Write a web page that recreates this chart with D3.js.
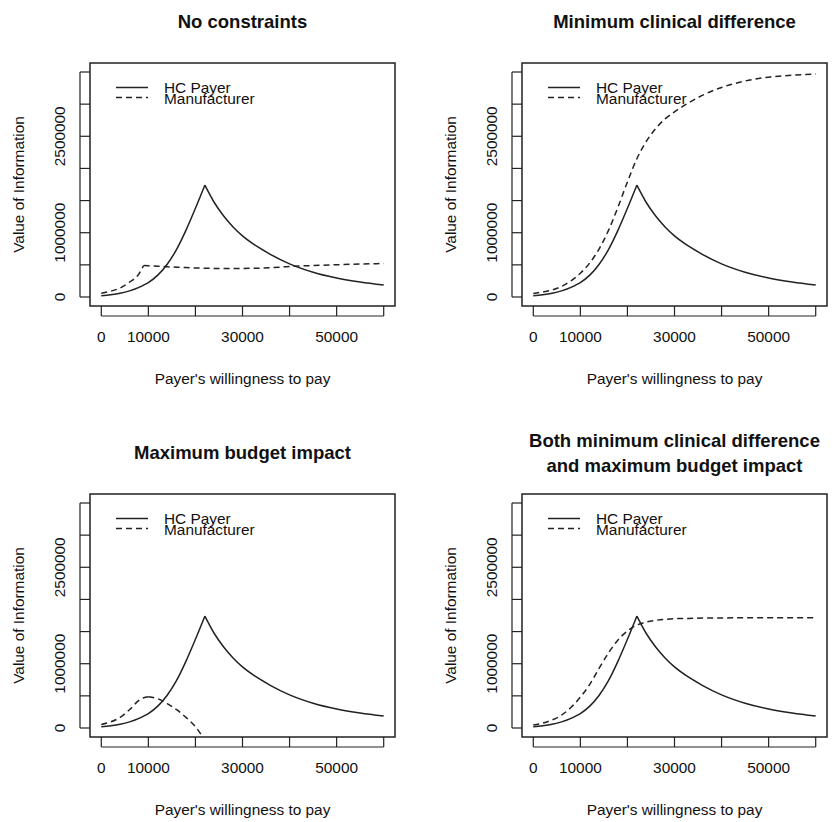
<!DOCTYPE html>
<html>
<head>
<meta charset="utf-8">
<script src="https://cdn.jsdelivr.net/npm/d3@7/dist/d3.min.js"></script>
<style>
  body { margin: 0; background: #fff; }
  svg { display: block; }
  text { font-family: "Liberation Sans", Arial, Helvetica, sans-serif; fill: #111; }
</style>
</head>
<body>
<div id="chart"></div>
<script>
// Payer's willingness to pay (shared x grid)
const wtp = [0, 2000, 4000, 6000, 8000, 9000, 10000, 12000, 14000, 16000, 18000, 20000,
  22000, 24000, 26000, 28000, 30000, 33000, 36000, 40000, 45000, 50000, 55000, 60000];

// HC Payer value of information (same in all four panels)
const payerVoi = [20000, 35000, 58000, 95000, 150000, 185000, 225000, 340000, 510000, 740000, 1040000, 1380000,
  1740000, 1470000, 1260000, 1090000, 950000, 790000, 660000, 515000, 385000, 295000, 232000, 185000];

// Manufacturer value of information, one series per panel
const manufNone = [60000, 90000, 140000, 230000, 360000, 490000, 485000, 478000, 470000, 463000, 457000, 452000,
  448000, 445000, 443000, 443000, 444000, 448000, 455000, 475000, 490000, 502000, 512000, 522000];
const manufMinClin = [55000, 78000, 110000, 165000, 250000, 305000, 370000, 530000, 750000, 1040000, 1400000, 1790000,
  2150000, 2420000, 2620000, 2770000, 2880000, 3020000, 3140000, 3260000, 3360000, 3420000, 3450000, 3470000];
const manufMaxBudget = [55000, 95000, 165000, 285000, 430000, 470000, 485000, 455000, 380000, 285000, 165000, 20000,
  -190000, null, null, null, null, null, null, null, null, null, null, null];
const manufBoth = [45000, 75000, 125000, 200000, 320000, 395000, 480000, 680000, 930000, 1170000, 1370000, 1510000,
  1600000, 1650000, 1675000, 1690000, 1700000, 1705000, 1710000, 1712000, 1714000, 1715000, 1715000, 1715000];

const panelTitles = [
  ['No constraints'],
  ['Minimum clinical difference'],
  ['Maximum budget impact'],
  ['Both minimum clinical difference', 'and maximum budget impact']
];
const panelManuf = [manufNone, manufMinClin, manufMaxBudget, manufBoth];

const xTicks = [0, 10000, 20000, 30000, 40000, 50000, 60000];
const xTickLabels = ['0', '10000', '', '30000', '', '50000', ''];
const yTicks = [0, 500000, 1000000, 1500000, 2000000, 2500000, 3000000, 3500000];
const yTickLabels = ['0', '', '1000000', '', '', '2500000', '', ''];

const legendLabels = ['HC Payer', 'Manufacturer'];

// Layout
const W = 837, H = 822;
const boxW = 305, boxH = 243;
const colLeft = [90, 522];
const rowTop = [63, 494];
const axisGap = 10;
const baseFont = 15.4;
const titleFont = 18.5;
const dash = '6,4';
const ink = '#222';

const svg = d3.select('#chart').append('svg')
  .attr('width', W)
  .attr('height', H);

// R style ranges: limits extended by 4%
const xScale = d3.scaleLinear().domain([-2400, 62400]).range([0, boxW]);
const yScale = d3.scaleLinear().domain([-140000, 3640000]).range([boxH, 0]);

// split a series at interior local extrema so the kinks stay sharp
function splitSeries(pts) {
  const pieces = [];
  let current = [pts[0]];
  for (let i = 1; i < pts.length; i++) {
    current.push(pts[i]);
    if (i < pts.length - 1) {
      const a = pts[i].v - pts[i - 1].v;
      const b = pts[i + 1].v - pts[i].v;
      if (a * b < 0) {
        pieces.push(current);
        current = [pts[i]];
      }
    }
  }
  pieces.push(current);
  return pieces;
}

const line = d3.line()
  .x(d => xScale(d.x))
  .y(d => yScale(d.v))
  .curve(d3.curveMonotoneX);

function drawSeries(g, values, dashed) {
  const pts = wtp.map((x, i) => ({ x: x, v: values[i] })).filter(d => d.v !== null);
  splitSeries(pts).forEach(piece => {
    g.append('path')
      .attr('d', line(piece))
      .attr('fill', 'none')
      .attr('stroke', ink)
      .attr('stroke-width', 1.5)
      .attr('stroke-dasharray', dashed ? dash : null);
  });
}

function drawPanel(idx) {
  const left = colLeft[idx % 2];
  const top = rowTop[Math.floor(idx / 2)];
  const g = svg.append('g').attr('transform', `translate(${left},${top})`);

  // clip to the plot region
  g.append('clipPath').attr('id', `clip${idx}`)
    .append('rect').attr('width', boxW).attr('height', boxH);

  const plot = g.append('g').attr('clip-path', `url(#clip${idx})`);
  drawSeries(plot, payerVoi, false);
  drawSeries(plot, panelManuf[idx], true);

  // box
  g.append('rect')
    .attr('width', boxW)
    .attr('height', boxH)
    .attr('fill', 'none')
    .attr('stroke', ink)
    .attr('stroke-width', 1.5);

  // x axis
  const xAxis = g.append('g').attr('transform', `translate(0,${boxH + axisGap})`);
  xAxis.append('line')
    .attr('x1', xScale(xTicks[0])).attr('x2', xScale(xTicks[xTicks.length - 1]))
    .attr('stroke', ink).attr('stroke-width', 1.2);
  xTicks.forEach((t, i) => {
    xAxis.append('line')
      .attr('x1', xScale(t)).attr('x2', xScale(t))
      .attr('y1', 0).attr('y2', -axisGap)
      .attr('stroke', ink).attr('stroke-width', 1.2);
    xAxis.append('text')
      .attr('x', xScale(t))
      .attr('y', 21)
      .attr('dy', '0.35em')
      .attr('text-anchor', 'middle')
      .style('font-size', baseFont + 'px')
      .text(xTickLabels[i]);
  });

  // y axis
  const yAxis = g.append('g').attr('transform', `translate(${-axisGap},0)`);
  yAxis.append('line')
    .attr('y1', yScale(yTicks[0])).attr('y2', yScale(yTicks[yTicks.length - 1]))
    .attr('stroke', ink).attr('stroke-width', 1.2);
  yTicks.forEach((t, i) => {
    yAxis.append('line')
      .attr('y1', yScale(t)).attr('y2', yScale(t))
      .attr('x1', 0).attr('x2', axisGap)
      .attr('stroke', ink).attr('stroke-width', 1.2);
    yAxis.append('text')
      .attr('transform', `translate(-20,${yScale(t)}) rotate(-90)`)
      .attr('dy', '0.35em')
      .attr('text-anchor', 'middle')
      .style('font-size', baseFont + 'px')
      .text(yTickLabels[i]);
  });

  // axis titles
  g.append('text')
    .attr('x', boxW / 2)
    .attr('y', boxH + 73)
    .attr('dy', '0.35em')
    .attr('text-anchor', 'middle')
    .style('font-size', baseFont + 'px')
    .text("Payer's willingness to pay");

  g.append('text')
    .attr('transform', `translate(-71.7,${boxH / 2}) rotate(-90)`)
    .attr('dy', '0.35em')
    .attr('text-anchor', 'middle')
    .style('font-size', baseFont + 'px')
    .text('Value of Information');

  // title (multi-line titles are centred on the same position)
  const lines = panelTitles[idx];
  const lineStep = 24.3;
  lines.forEach((txt, k) => {
    g.append('text')
      .attr('x', boxW / 2)
      .attr('y', -41 + (k - (lines.length - 1) / 2) * lineStep)
      .attr('dy', '0.35em')
      .attr('text-anchor', 'middle')
      .style('font-size', titleFont + 'px')
      .style('font-weight', 'bold')
      .text(txt);
  });

  // legend
  const legend = g.append('g');
  legendLabels.forEach((lab, k) => {
    legend.append('line')
      .attr('x1', 26).attr('x2', 58)
      .attr('y1', 24.5 + k * 10).attr('y2', 24.5 + k * 10)
      .attr('stroke', ink)
      .attr('stroke-width', 1.5)
      .attr('stroke-dasharray', k === 1 ? dash : null);
    legend.append('text')
      .attr('x', 74)
      .attr('y', 24.5 + k * 11)
      .attr('dy', '0.35em')
      .style('font-size', baseFont + 'px')
      .text(lab);
  });
}

[0, 1, 2, 3].forEach(drawPanel);
</script>
</body>
</html>
